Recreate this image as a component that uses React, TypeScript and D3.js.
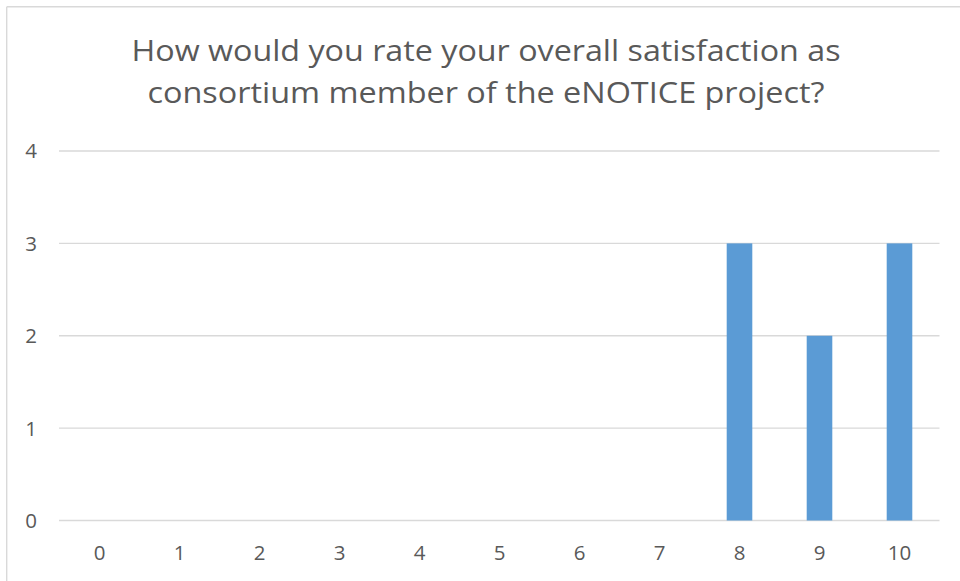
import React from "react";
import * as d3 from "d3";

// Survey answers: rating on a 0–10 scale and number of respondents
const ratings: string[] = ["0", "1", "2", "3", "4", "5", "6", "7", "8", "9", "10"];
const counts: number[] = [0, 0, 0, 0, 0, 0, 0, 0, 3, 2, 3];
const yTicks: number[] = [0, 1, 2, 3, 4];
const titleLines: string[] = [
  "How would you rate your overall satisfaction as",
  "consortium member of the eNOTICE project?",
];
const titleWidths: number[] = [709, 677];

const W = 960;
const H = 581;
const FONT = "'Open Sans', 'Noto Sans', sans-serif";
const TEXT = "#595959";
const GRID = "#d9d9d9";
const BAR = "#5b9bd5";

export default function App() {
  const x = d3.scaleBand<string>().domain(ratings).range([59.5, 939.5]).paddingInner(0.68).paddingOuter(0.34);
  const y = d3.scaleLinear().domain([0, 4]).range([520.5, 151]);

  return (
    <svg
      width={W}
      height={H}
      style={{ position: "absolute", left: 0, top: 0, background: "#fff" }}
      fontFamily={FONT}
    >
      {/* chart frame (top and left edges) */}
      <line x1={6.7} x2={W} y1={6.7} y2={6.7} stroke={GRID} strokeWidth={1.4} />
      <line x1={6.7} x2={6.7} y1={6.7} y2={H} stroke={GRID} strokeWidth={1.4} />

      {/* title */}
      {titleLines.map((t, i) => (
        <text
          key={t}
          x={486}
          y={60.5 + i * 42}
          textAnchor="middle"
          fontSize={29}
          fill={TEXT}
          textLength={titleWidths[i]}
          lengthAdjust="spacingAndGlyphs"
        >
          {t}
        </text>
      ))}

      {/* gridlines and value axis labels */}
      {yTicks.map((v) => (
        <g key={v}>
          <line x1={59} x2={939.5} y1={y(v)} y2={y(v)} stroke={GRID} strokeWidth={1.3} />
          <text x={37} y={y(v)} dy="0.36em" textAnchor="end" fontSize={20.5} fill={TEXT}>
            {v}
          </text>
        </g>
      ))}

      {/* bars */}
      {ratings.map((r, i) =>
        counts[i] > 0 ? (
          <rect
            key={r}
            x={x(r)}
            y={y(counts[i])}
            width={x.bandwidth()}
            height={y(0) - y(counts[i])}
            fill={BAR}
          />
        ) : null
      )}

      {/* category labels */}
      {ratings.map((r) => (
        <text
          key={r}
          x={(x(r) as number) + x.bandwidth() / 2}
          y={560}
          textAnchor="middle"
          fontSize={20.5}
          fill={TEXT}
        >
          {r}
        </text>
      ))}
    </svg>
  );
}
